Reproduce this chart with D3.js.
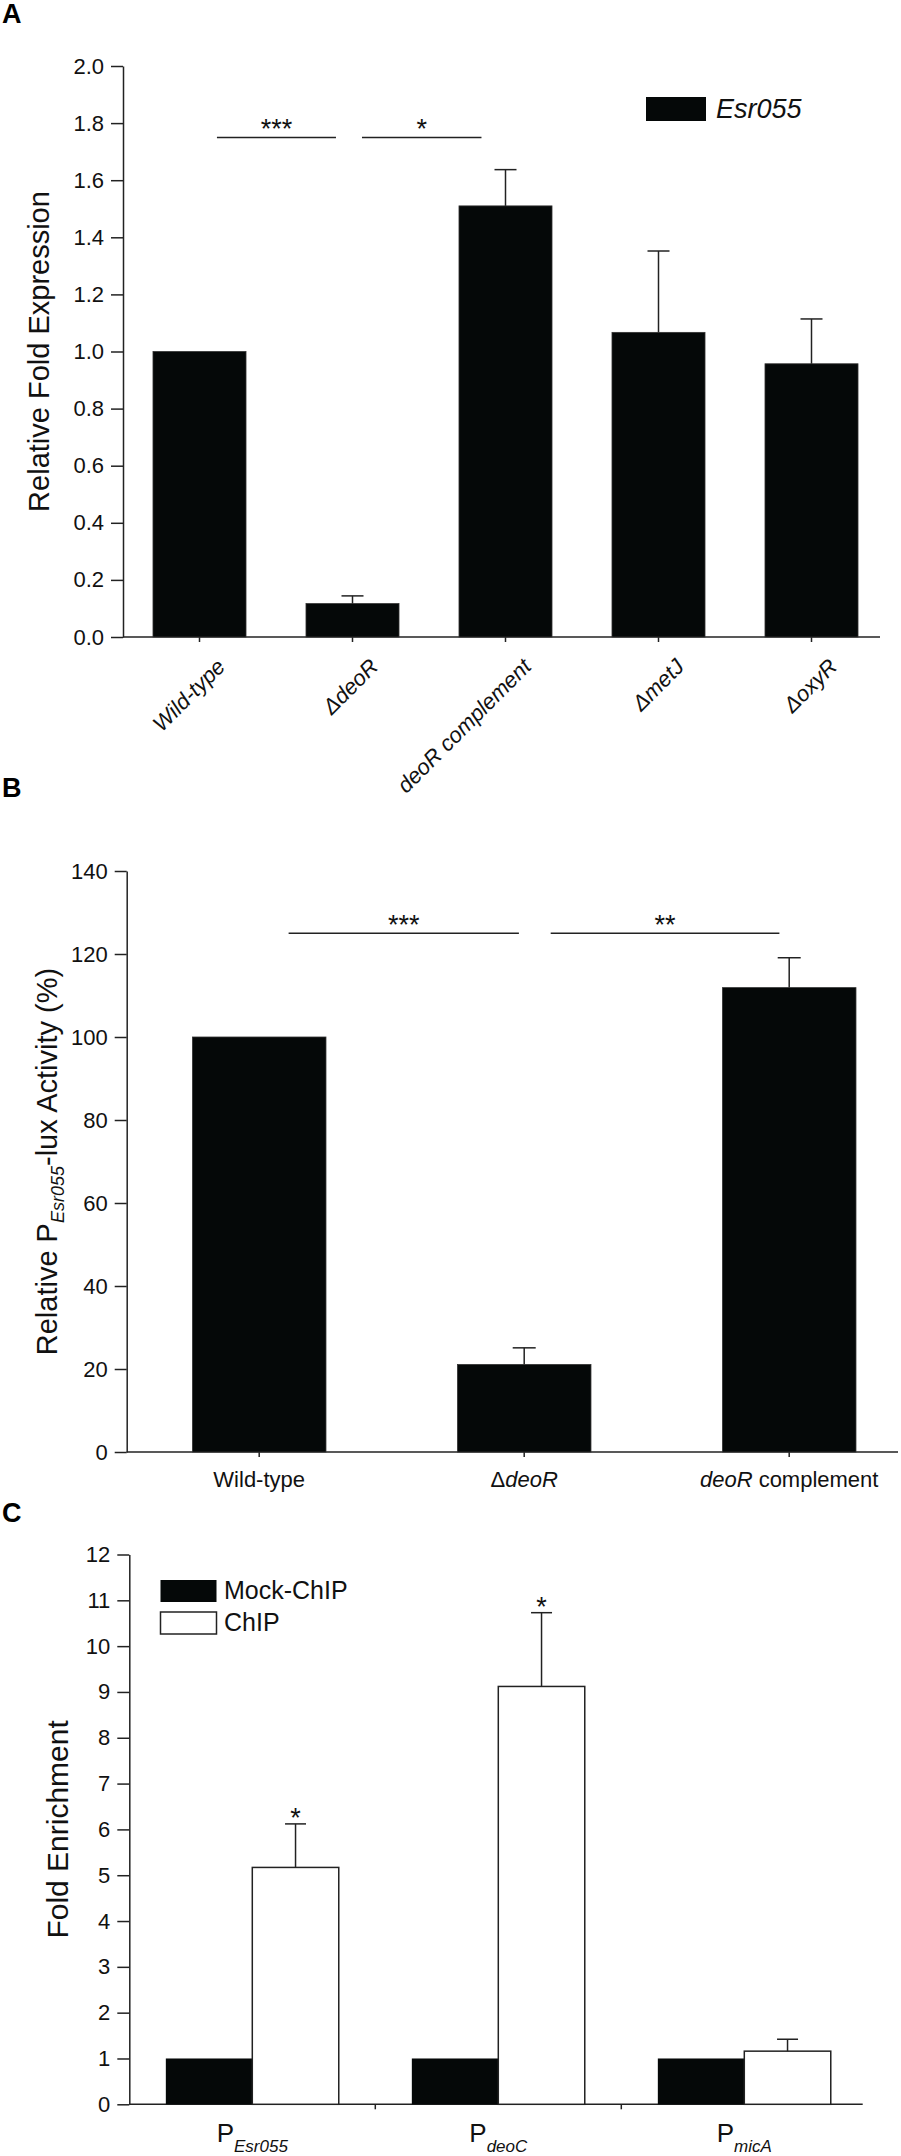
<!DOCTYPE html>
<html lang="en">

<head>
  <meta charset="UTF-8">
  <title>Esr055 expression, P-Esr055-lux activity and ChIP enrichment</title>
  <script src="https://d3js.org/d3.v7.min.js"></script>
  <style>
    body { margin: 0; background: #fff; }
    svg text { font-family: "Liberation Sans", Arial, Helvetica, sans-serif; fill: #111; }
    .axis path, .axis line { stroke: #222; stroke-width: 1.5px; }
    .axis text { font-size: 22px; fill: #111; }
  </style>
</head>

<body>
  <div id="figure"></div>

  <script>
    // panel A - relative fold expression of Esr055
    const exprStrains = ["Wild-type", "ΔdeoR", "deoR complement", "ΔmetJ", "ΔoxyR"];
    const exprValues = [1.0, 0.117, 1.51, 1.067, 0.957];
    const exprErrors = [0, 0.027, 0.127, 0.285, 0.157];
    const exprTicks = [0, 0.2, 0.4, 0.6, 0.8, 1.0, 1.2, 1.4, 1.6, 1.8, 2.0];
    const exprSig = [
      { from: 0, to: 1, label: "***", value: 1.75 },
      { from: 1, to: 2, label: "*", value: 1.75 }
    ];

    // panel B - relative P(Esr055)-lux activity
    const luxStrains = ["Wild-type", "ΔdeoR", "deoR complement"];
    const luxLabelParts = [
      [["Wild-type", false]],
      [["Δ", false], ["deoR", true]],
      [["deoR", true], [" complement", false]]
    ];
    const luxValues = [100, 21.1, 111.9];
    const luxErrors = [0, 4.0, 7.2];
    const luxTicks = [0, 20, 40, 60, 80, 100, 120, 140];
    const luxSig = [
      { from: 0, to: 1, label: "***", value: 125 },
      { from: 1, to: 2, label: "**", value: 125 }
    ];

    // panel C - ChIP fold enrichment
    const chipPromoters = ["Esr055", "deoC", "micA"];
    const chipGroups = ["Mock-ChIP", "ChIP"];
    const mockValues = [1, 1, 1];
    const chipValues = [5.17, 9.12, 1.16];
    const chipErrors = [0.95, 1.61, 0.26];
    const chipStars = ["*", "*", ""];
    const chipTicks = [0, 1, 2, 3, 4, 5, 6, 7, 8, 9, 10, 11, 12];

    const barColor = "#050808";
    const lineColor = "#222";

    const svg = d3.select("#figure")
      .append("svg")
      .attr("width", 901)
      .attr("height", 2156);

    // small helpers
    function panelLetter(txt, y) {
      svg.append("text")
        .attr("x", 2)
        .attr("y", y)
        .attr("font-size", "27px")
        .attr("font-weight", "bold")
        .style("fill", "#000")
        .text(txt);
    }

    function errorBar(cx, yTop, yEnd, capW) {
      svg.append("line")
        .attr("x1", cx).attr("x2", cx)
        .attr("y1", yTop).attr("y2", yEnd)
        .attr("stroke", lineColor).attr("stroke-width", 1.5);
      svg.append("line")
        .attr("x1", cx - capW / 2).attr("x2", cx + capW / 2)
        .attr("y1", yEnd).attr("y2", yEnd)
        .attr("stroke", lineColor).attr("stroke-width", 1.5);
    }

    function sigBracket(x1, x2, y, label) {
      svg.append("line")
        .attr("x1", x1).attr("x2", x2)
        .attr("y1", y).attr("y2", y)
        .attr("stroke", lineColor).attr("stroke-width", 1.5);
      svg.append("text")
        .attr("x", (x1 + x2) / 2)
        .attr("y", y + 1)
        .attr("text-anchor", "middle")
        .attr("font-size", "27px")
        .text(label);
    }

    // ================= A =================
    panelLetter("A", 23);

    const aX = d3.scaleBand()
      .domain(exprStrains)
      .range([123, 888])
      .paddingInner(0.392)
      .paddingOuter(0.196);

    const aY = d3.scaleLinear()
      .domain([0, 2])
      .range([637, 66]);

    svg.append("g")
      .attr("class", "axis")
      .attr("transform", "translate(123,0)")
      .call(d3.axisLeft(aY).tickValues(exprTicks).tickFormat(d3.format(".1f"))
        .tickSize(12).tickSizeOuter(0).tickPadding(7));

    svg.append("g")
      .attr("class", "axis")
      .attr("transform", "translate(0,637)")
      .call(d3.axisBottom(aX).tickSize(5).tickSizeOuter(0).tickFormat(""))
      .select(".domain").attr("d", "M123,0H880");

    svg.selectAll(".barA")
      .data(exprStrains)
      .enter()
      .append("rect")
      .attr("class", "barA")
      .attr("x", d => aX(d))
      .attr("width", aX.bandwidth())
      .attr("y", (d, i) => aY(exprValues[i]))
      .attr("height", (d, i) => aY(0) - aY(exprValues[i]))
      .attr("fill", barColor)
      .attr("stroke", "#333")
      .attr("stroke-width", 0.8);

    exprStrains.forEach((d, i) => {
      if (exprErrors[i] > 0) {
        const cx = aX(d) + aX.bandwidth() / 2;
        errorBar(cx, aY(exprValues[i]), aY(exprValues[i] + exprErrors[i]), 22);
      }
    });

    // rotated italic category labels
    svg.selectAll(".labA")
      .data(exprStrains)
      .enter()
      .append("text")
      .attr("class", "labA")
      .attr("text-anchor", "end")
      .attr("font-size", "22px")
      .attr("font-style", "italic")
      .attr("transform", d => `translate(${aX(d) + aX.bandwidth() / 2 + 27},${637 + 31}) rotate(-45)`)
      .text(d => d);

    // brackets are inset a bit from the bar centres
    const aInsets = [[0.114, 0.108], [0.062, 0.157]];
    exprSig.forEach((s, i) => {
      const step = aX.step();
      const x1 = aX(exprStrains[s.from]) + aX.bandwidth() / 2 + aInsets[i][0] * step;
      const x2 = aX(exprStrains[s.to]) + aX.bandwidth() / 2 - aInsets[i][1] * step;
      sigBracket(x1, x2, aY(s.value), s.label);
    });

    // legend
    svg.append("rect")
      .attr("x", 646).attr("y", 97)
      .attr("width", 60).attr("height", 24)
      .attr("fill", barColor);
    svg.append("text")
      .attr("x", 716).attr("y", 118)
      .attr("font-size", "27px")
      .attr("font-style", "italic")
      .text("Esr055");

    svg.append("text")
      .attr("transform", `translate(49,${(aY(0) + aY(2)) / 2}) rotate(-90)`)
      .attr("text-anchor", "middle")
      .attr("font-size", "29px")
      .text("Relative Fold Expression");

    // ================= B =================
    panelLetter("B", 797);

    const bX = d3.scaleBand()
      .domain(luxStrains)
      .range([126.7, 921.7])
      .paddingInner(0.496)
      .paddingOuter(0.248);

    const bY = d3.scaleLinear()
      .domain([0, 140])
      .range([1452, 871]);

    svg.append("g")
      .attr("class", "axis")
      .attr("transform", "translate(126.7,0)")
      .call(d3.axisLeft(bY).tickValues(luxTicks)
        .tickSize(12).tickSizeOuter(0).tickPadding(7));

    svg.append("g")
      .attr("class", "axis")
      .attr("transform", "translate(0,1452)")
      .call(d3.axisBottom(bX).tickSize(5).tickSizeOuter(0).tickFormat(""))
      .select(".domain").attr("d", "M126.7,0H898");

    svg.selectAll(".barB")
      .data(luxStrains)
      .enter()
      .append("rect")
      .attr("class", "barB")
      .attr("x", d => bX(d))
      .attr("width", bX.bandwidth())
      .attr("y", (d, i) => bY(luxValues[i]))
      .attr("height", (d, i) => bY(0) - bY(luxValues[i]))
      .attr("fill", barColor)
      .attr("stroke", "#333")
      .attr("stroke-width", 0.8);

    luxStrains.forEach((d, i) => {
      if (luxErrors[i] > 0) {
        const cx = bX(d) + bX.bandwidth() / 2;
        errorBar(cx, bY(luxValues[i]), bY(luxValues[i] + luxErrors[i]), 23);
      }
    });

    luxStrains.forEach((d, i) => {
      const t = svg.append("text")
        .attr("x", bX(d) + bX.bandwidth() / 2)
        .attr("y", 1487)
        .attr("text-anchor", "middle")
        .attr("font-size", "22px");
      luxLabelParts[i].forEach(p => {
        t.append("tspan")
          .attr("font-style", p[1] ? "italic" : "normal")
          .text(p[0]);
      });
    });

    const bInsets = [[0.111, 0.02], [0.10, 0.037]];
    luxSig.forEach((s, i) => {
      const step = bX.step();
      const x1 = bX(luxStrains[s.from]) + bX.bandwidth() / 2 + bInsets[i][0] * step;
      const x2 = bX(luxStrains[s.to]) + bX.bandwidth() / 2 - bInsets[i][1] * step;
      sigBracket(x1, x2, bY(s.value), s.label);
    });

    const bLabel = svg.append("text")
      .attr("transform", `translate(57,${(bY(0) + bY(140)) / 2}) rotate(-90)`)
      .attr("text-anchor", "middle")
      .attr("font-size", "29px");
    bLabel.append("tspan").text("Relative P");
    bLabel.append("tspan")
      .attr("font-size", "18px")
      .attr("font-style", "italic")
      .attr("dy", 7)
      .text("Esr055");
    bLabel.append("tspan")
      .attr("dy", -7)
      .text("-lux Activity (%)");

    // ================= C =================
    panelLetter("C", 1522);

    const cX = d3.scaleBand()
      .domain(chipPromoters)
      .range([129.3, 867.3])
      .paddingInner(0.297)
      .paddingOuter(0.1485);

    const cSub = d3.scaleBand()
      .domain(chipGroups)
      .range([0, cX.bandwidth()]);

    const cY = d3.scaleLinear()
      .domain([0, 12])
      .range([2104.3, 1554.5]);

    svg.append("g")
      .attr("class", "axis")
      .attr("transform", "translate(129.3,0)")
      .call(d3.axisLeft(cY).tickValues(chipTicks)
        .tickSize(12).tickSizeOuter(0).tickPadding(7));

    const cAxis = svg.append("g")
      .attr("class", "axis")
      .attr("transform", "translate(0,2104.3)")
      .call(d3.axisBottom(cX).tickValues([]).tickSizeOuter(0));
    cAxis.select(".domain").attr("d", "M129.3,0H862.7");

    // ticks sit between promoter groups
    chipPromoters.slice(0, -1).forEach(p => {
      const bx = cX(p) + cX.bandwidth() + cX.step() * cX.paddingInner() / 2;
      cAxis.append("line")
        .attr("x1", bx).attr("x2", bx)
        .attr("y1", 0).attr("y2", 5);
    });

    const chipRows = chipPromoters.map((p, i) => ({ promoter: p, mock: mockValues[i], chip: chipValues[i] }));

    const groupSel = svg.selectAll(".grpC")
      .data(chipRows)
      .enter()
      .append("g")
      .attr("class", "grpC")
      .attr("transform", d => `translate(${cX(d.promoter)},0)`);

    groupSel.append("rect")
      .attr("x", cSub("Mock-ChIP"))
      .attr("width", cSub.bandwidth())
      .attr("y", d => cY(d.mock))
      .attr("height", d => cY(0) - cY(d.mock))
      .attr("fill", barColor);

    groupSel.append("rect")
      .attr("x", cSub("ChIP"))
      .attr("width", cSub.bandwidth())
      .attr("y", d => cY(d.chip))
      .attr("height", d => cY(0) - cY(d.chip))
      .attr("fill", "#fff")
      .attr("stroke", lineColor)
      .attr("stroke-width", 1.5);

    chipPromoters.forEach((p, i) => {
      const cx = cX(p) + cSub("ChIP") + cSub.bandwidth() / 2;
      const yEnd = cY(chipValues[i] + chipErrors[i]);
      errorBar(cx, cY(chipValues[i]), yEnd, 21);
      if (chipStars[i]) {
        svg.append("text")
          .attr("x", cx)
          .attr("y", yEnd + 3)
          .attr("text-anchor", "middle")
          .attr("font-size", "27px")
          .text(chipStars[i]);
      }
    });

    chipPromoters.forEach(p => {
      const t = svg.append("text")
        .attr("x", cX(p) + cX.bandwidth() / 2)
        .attr("y", 2142)
        .attr("text-anchor", "middle")
        .attr("font-size", "26px");
      t.append("tspan").text("P");
      t.append("tspan")
        .attr("font-size", "17px")
        .attr("font-style", "italic")
        .attr("dy", 10)
        .text(p);
    });

    // legend
    const cLegend = svg.append("g");
    chipGroups.forEach((g, i) => {
      cLegend.append("rect")
        .attr("x", 160.5)
        .attr("y", 1580 + i * 32)
        .attr("width", 56)
        .attr("height", 22)
        .attr("fill", i === 0 ? barColor : "#fff")
        .attr("stroke", lineColor)
        .attr("stroke-width", i === 0 ? 0 : 1.5);
      cLegend.append("text")
        .attr("x", 224)
        .attr("y", 1599 + i * 32)
        .attr("font-size", "25px")
        .text(g);
    });

    svg.append("text")
      .attr("transform", `translate(68,${(cY(0) + cY(12)) / 2}) rotate(-90)`)
      .attr("text-anchor", "middle")
      .attr("font-size", "30px")
      .text("Fold Enrichment");
  </script>
</body>

</html>
